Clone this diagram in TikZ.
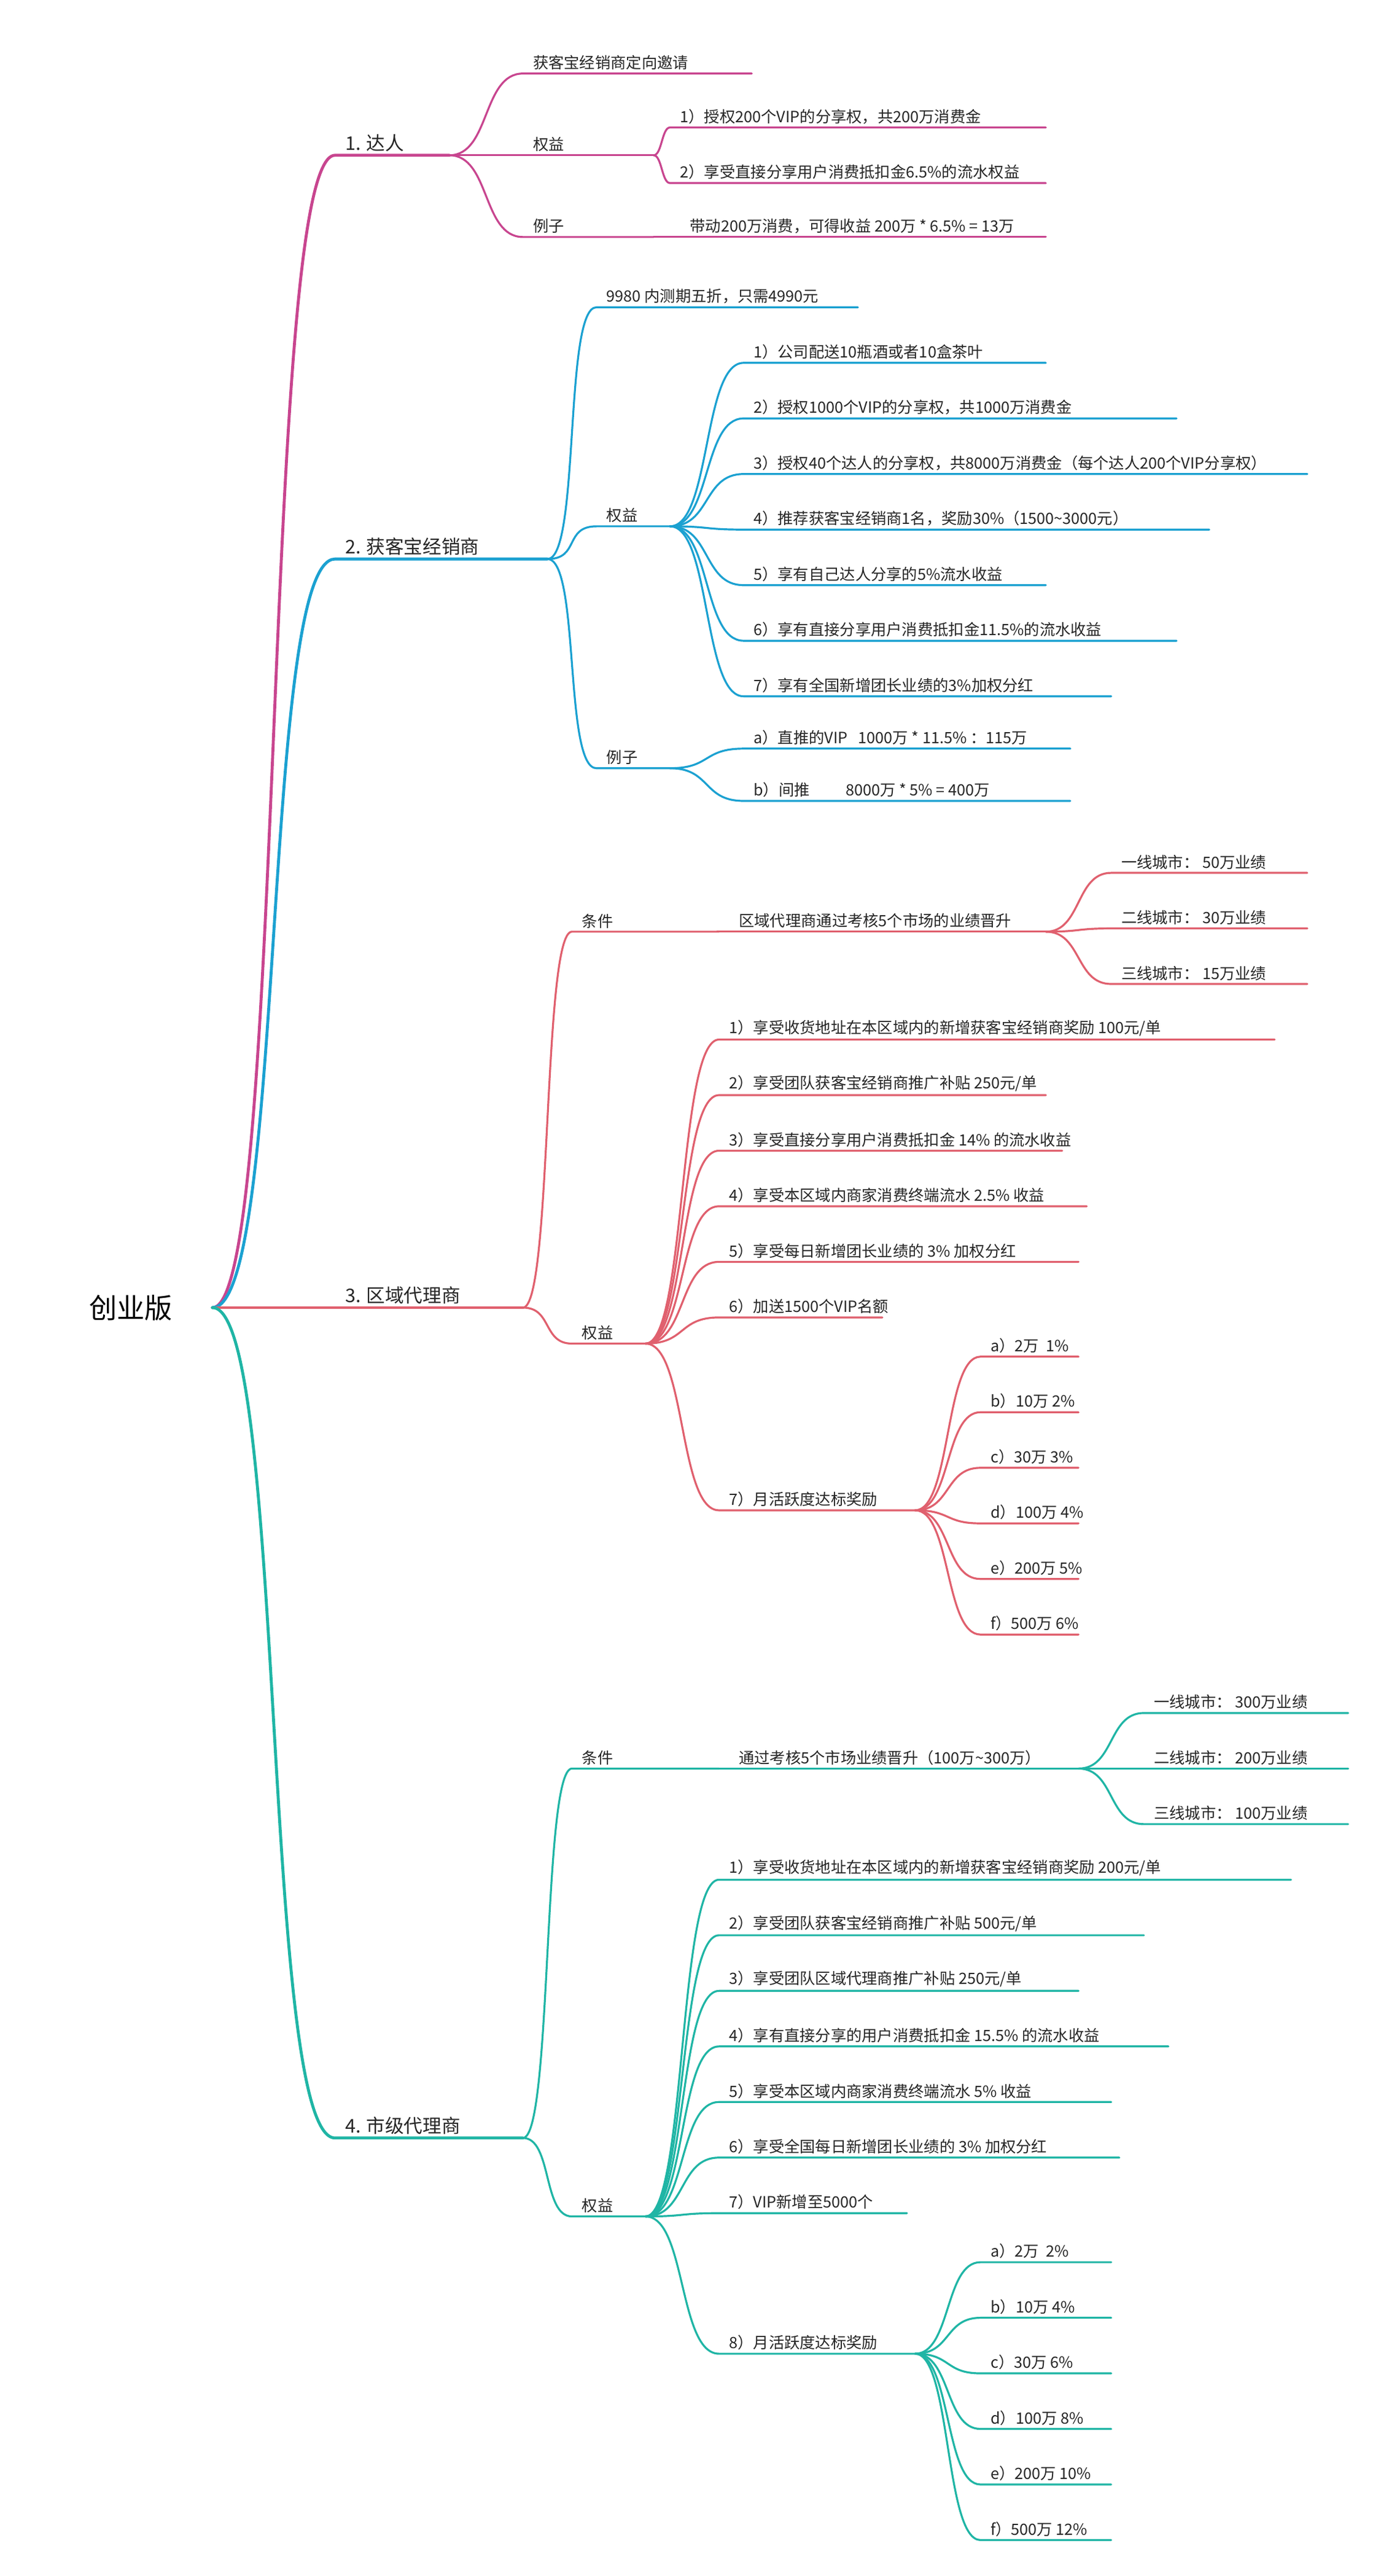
\documentclass[tikz,border=0pt]{standalone}
\usepackage{fontspec}
\setmainfont{Noto Sans CJK SC}
\definecolor{cA}{HTML}{C8458F}
\definecolor{cB}{HTML}{1BA1D1}
\definecolor{cC}{HTML}{E0606E}
\definecolor{cD}{HTML}{1FB5A5}
\newcommand\bigtxt{\fontsize{11.5}{13}\selectfont}
\tikzset{lbl/.style={anchor=south west,inner sep=2pt,font=\fontsize{9.5}{11}\selectfont,text=black!85}}
% color, width, parent, name, xstart, xend, y, text, handle
\newcommand\br[9]{%
 \coordinate (#4s) at (#5,#7); \coordinate (#4) at (#6,#7);
 \draw[#1,line width=#2,line cap=round] (#3) .. controls +(#9,0) and +(-#9,0) .. (#4s) -- (#4);
 \node[lbl] (#4t) at ([xshift=4pt]#4s) {#8};}
\begin{document}
\begin{tikzpicture}[x=1pt,y=-1pt]
\useasboundingbox (0,0) rectangle (850,1576);
\fill[white] (0,0) rectangle (850,1576);
\node[font=\fontsize{17}{20}\selectfont] (root) at (80,800) {创业版};
\coordinate (r) at (130,800);
% Branch 1
\br{cA}{1.8pt}{r}{a}{205}{275}{95}{\bigtxt 1. 达人}{45}
\br{cA}{1.2pt}{a}{a1}{320}{460}{45}{获客宝经销商定向邀请}{25}
\br{cA}{1.2pt}{a}{a2}{320}{400}{95}{权益}{25}
\br{cA}{1.2pt}{a}{a3}{320}{400}{145}{例子}{25}
\br{cA}{1.2pt}{a2}{a21}{410}{640}{78}{1）授权200个VIP的分享权，共200万消费金}{5}
\br{cA}{1.2pt}{a2}{a22}{410}{640}{112}{2）享受直接分享用户消费抵扣金6.5\%的流水权益}{5}
\br{cA}{1.2pt}{a3}{a31}{410}{640}{145}{\hspace{6pt}带动200万消费，可得收益 200万 * 6.5\% = 13万}{5}
% Branch 2
\br{cB}{1.8pt}{r}{b}{205}{335}{342}{\bigtxt 2. 获客宝经销商}{45}
\br{cB}{1.2pt}{b}{b1}{365}{525}{188}{9980 内测期五折，只需4990元}{20}
\br{cB}{1.2pt}{b}{b2}{365}{410}{322}{权益}{20}
\br{cB}{1.2pt}{b}{b3}{365}{410}{470}{例子}{20}
\br{cB}{1.2pt}{b2}{b21}{455}{640}{222}{1）公司配送10瓶酒或者10盒茶叶}{25}
\br{cB}{1.2pt}{b2}{b22}{455}{720}{256}{2）授权1000个VIP的分享权，共1000万消费金}{25}
\br{cB}{1.2pt}{b2}{b23}{455}{800}{290}{3）授权40个达人的分享权，共8000万消费金（每个达人200个VIP分享权）}{25}
\br{cB}{1.2pt}{b2}{b24}{455}{740}{324}{4）推荐获客宝经销商1名，奖励30\%（1500\textasciitilde3000元）}{25}
\br{cB}{1.2pt}{b2}{b25}{455}{640}{358}{5）享有自己达人分享的5\%流水收益}{25}
\br{cB}{1.2pt}{b2}{b26}{455}{720}{392}{6）享有直接分享用户消费抵扣金11.5\%的流水收益}{25}
\br{cB}{1.2pt}{b2}{b27}{455}{680}{426}{7）享有全国新增团长业绩的3\%加权分红}{25}
\br{cB}{1.2pt}{b3}{b31}{455}{655}{458}{a）直推的VIP\ \ \ 1000万 * 11.5\% ：115万}{25}
\br{cB}{1.2pt}{b3}{b32}{455}{655}{490}{b）间推\hspace{22pt}8000万 * 5\% = 400万}{25}
% Branch 3
\br{cC}{1.8pt}{r}{c}{205}{320}{800}{\bigtxt 3. 区域代理商}{40}
\br{cC}{1.2pt}{c}{c1}{350}{440}{570}{条件}{18}
\br{cC}{1.2pt}{c}{c2}{350}{395}{822}{权益}{18}
\br{cC}{1.2pt}{c1}{c11}{440}{640}{570}{\hspace{6pt}区域代理商通过考核5个市场的业绩晋升}{5}
\br{cC}{1.2pt}{c11}{c111}{680}{800}{534}{一线城市：\ 50万业绩}{22}
\br{cC}{1.2pt}{c11}{c112}{680}{800}{568}{二线城市：\ 30万业绩}{22}
\br{cC}{1.2pt}{c11}{c113}{680}{800}{602}{三线城市：\ 15万业绩}{22}
\br{cC}{1.2pt}{c2}{c21}{440}{780}{636}{1）享受收货地址在本区域内的新增获客宝经销商奖励 100元/单}{25}
\br{cC}{1.2pt}{c2}{c22}{440}{640}{670}{2）享受团队获客宝经销商推广补贴 250元/单}{25}
\br{cC}{1.2pt}{c2}{c23}{440}{650}{704}{3）享受直接分享用户消费抵扣金 14\% 的流水收益}{25}
\br{cC}{1.2pt}{c2}{c24}{440}{665}{738}{4）享受本区域内商家消费终端流水 2.5\% 收益}{25}
\br{cC}{1.2pt}{c2}{c25}{440}{660}{772}{5）享受每日新增团长业绩的 3\% 加权分红}{25}
\br{cC}{1.2pt}{c2}{c26}{440}{540}{806}{6）加送1500个VIP名额}{25}
\br{cC}{1.2pt}{c2}{c27}{440}{560}{924}{7）月活跃度达标奖励}{25}
\br{cC}{1.2pt}{c27}{c271}{600}{660}{830}{a）2万\ \ 1\%}{22}
\br{cC}{1.2pt}{c27}{c272}{600}{660}{864}{b）10万 2\%}{22}
\br{cC}{1.2pt}{c27}{c273}{600}{660}{898}{c）30万 3\%}{22}
\br{cC}{1.2pt}{c27}{c274}{600}{660}{932}{d）100万 4\%}{22}
\br{cC}{1.2pt}{c27}{c275}{600}{660}{966}{e）200万 5\%}{22}
\br{cC}{1.2pt}{c27}{c276}{600}{660}{1000}{f）500万 6\%}{22}
% Branch 4
\br{cD}{1.8pt}{r}{d}{205}{320}{1308}{\bigtxt 4. 市级代理商}{45}
\br{cD}{1.2pt}{d}{d1}{350}{440}{1082}{条件}{18}
\br{cD}{1.2pt}{d}{d2}{350}{395}{1356}{权益}{18}
\br{cD}{1.2pt}{d1}{d11}{440}{660}{1082}{\hspace{6pt}通过考核5个市场业绩晋升（100万\textasciitilde300万）}{5}
\br{cD}{1.2pt}{d11}{d111}{700}{825}{1048}{一线城市：\ 300万业绩}{22}
\br{cD}{1.2pt}{d11}{d112}{700}{825}{1082}{二线城市：\ 200万业绩}{22}
\br{cD}{1.2pt}{d11}{d113}{700}{825}{1116}{三线城市：\ 100万业绩}{22}
\br{cD}{1.2pt}{d2}{d21}{440}{790}{1150}{1）享受收货地址在本区域内的新增获客宝经销商奖励 200元/单}{25}
\br{cD}{1.2pt}{d2}{d22}{440}{700}{1184}{2）享受团队获客宝经销商推广补贴 500元/单}{25}
\br{cD}{1.2pt}{d2}{d23}{440}{660}{1218}{3）享受团队区域代理商推广补贴 250元/单}{25}
\br{cD}{1.2pt}{d2}{d24}{440}{715}{1252}{4）享有直接分享的用户消费抵扣金 15.5\% 的流水收益}{25}
\br{cD}{1.2pt}{d2}{d25}{440}{680}{1286}{5）享受本区域内商家消费终端流水 5\% 收益}{25}
\br{cD}{1.2pt}{d2}{d26}{440}{685}{1320}{6）享受全国每日新增团长业绩的 3\% 加权分红}{25}
\br{cD}{1.2pt}{d2}{d27}{440}{555}{1354}{7）VIP新增至5000个}{25}
\br{cD}{1.2pt}{d2}{d28}{440}{560}{1440}{8）月活跃度达标奖励}{25}
\br{cD}{1.2pt}{d28}{d281}{600}{680}{1384}{a）2万\ \ 2\%}{22}
\br{cD}{1.2pt}{d28}{d282}{600}{680}{1418}{b）10万 4\%}{22}
\br{cD}{1.2pt}{d28}{d283}{600}{680}{1452}{c）30万 6\%}{22}
\br{cD}{1.2pt}{d28}{d284}{600}{680}{1486}{d）100万 8\%}{22}
\br{cD}{1.2pt}{d28}{d285}{600}{680}{1520}{e）200万 10\%}{22}
\br{cD}{1.2pt}{d28}{d286}{600}{680}{1554}{f）500万 12\%}{22}
\end{tikzpicture}
\end{document}
